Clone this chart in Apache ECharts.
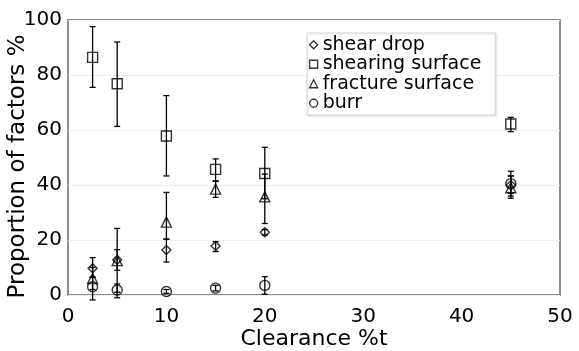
<!DOCTYPE html>
<html>
<head>
<meta charset="utf-8">
<script src="https://cdn.jsdelivr.net/npm/echarts@6/dist/echarts.min.js"></script>
<style>
  html, body { margin: 0; padding: 0; background: #fff; }
  #main { width: 579px; height: 351px; }
</style>
</head>
<body>
<div id="main"></div>
<script>
// clearance values (x)
const clearance = [2.5, 5, 10, 15, 20, 45];

// mean values and error bar ends
const shearDrop = [9.7, 12.8, 16.4, 17.8, 22.8, 40];
const shearDropLow = [6.5, 9, 12, 15.8, 21.8, 37];
const shearDropHigh = [13.6, 16.5, 20.3, 19.4, 23.8, 43.3];

const shearingSurface = [86.4, 76.8, 57.8, 45.7, 44.2, 62.2];
const shearingSurfaceLow = [75.5, 61.3, 43.3, 41.5, 35, 59.4];
const shearingSurfaceHigh = [97.6, 92, 72.5, 49.5, 53.7, 64.6];

const fractureSurface = [6, 12.5, 26.5, 38.5, 35.7, 39];
const fractureSurfaceLow = [2, 1, 20.3, 35.5, 26, 35.2];
const fractureSurfaceHigh = [10, 24.2, 37.3, 41.3, 44, 43.3];

const burr = [3, 1.8, 1.3, 2.5, 3.5, 40.5];
const burrLow = [-1.8, -1, 0.6, 1.5, 0.3, 36];
const burrHigh = [6.5, 4, 2, 3.5, 6.7, 45];

const xTicks = [0, 10, 20, 30, 40, 50];
const yTicks = [0, 20, 40, 60, 80, 100];

const font = "DejaVu Sans";
const chart = echarts.init(document.getElementById("main"));

function points(vals) {
  return clearance.map((x, i) => [x, vals[i]]);
}
function bars(low, high) {
  return clearance.map((x, i) => [x, low[i], high[i]]);
}

// vertical error bar with small caps
function renderErr(params, api) {
  const x = api.value(0);
  const lo = api.coord([x, api.value(1)]);
  const hi = api.coord([x, api.value(2)]);
  const cap = 3;
  const style = { stroke: "#000", lineWidth: 1.3 };
  return {
    type: "group",
    children: [
      { type: "line", shape: { x1: lo[0], y1: lo[1], x2: hi[0], y2: hi[1] }, style },
      { type: "line", shape: { x1: lo[0] - cap, y1: lo[1], x2: lo[0] + cap, y2: lo[1] }, style },
      { type: "line", shape: { x1: hi[0] - cap, y1: hi[1], x2: hi[0] + cap, y2: hi[1] }, style },
    ],
  };
}

const markerStyle = { color: "transparent", borderColor: "#000", borderWidth: 1.4 };

function errSeries(low, high) {
  return {
    type: "custom",
    renderItem: renderErr,
    clip: false,
    silent: true,
    z: 1,
    encode: { x: 0, y: [1, 2] },
    data: bars(low, high),
  };
}

function dotSeries(name, symbol, size, vals) {
  return {
    name,
    type: "scatter",
    symbol,
    symbolSize: size,
    itemStyle: markerStyle,
    z: 3,
    data: points(vals),
  };
}

const option = {
  animation: false,
  backgroundColor: "#fff",
  grid: {
    left: 68, right: 19, top: 20, bottom: 56,
    containLabel: false,
    outerBoundsMode: "none",
    show: true, borderColor: "#8c8c8c", borderWidth: 2,
  },
  legend: {
    orient: "vertical",
    left: 307, top: 33,
    padding: [2, 14, 2, 2],
    itemGap: 0,
    itemWidth: 8, itemHeight: 8,
    itemStyle: { borderWidth: 1.3 },
    backgroundColor: "#fff",
    borderColor: "#d6d6d6", borderWidth: 1,
    shadowColor: "rgba(0,0,0,0.12)", shadowBlur: 2, shadowOffsetX: 1, shadowOffsetY: 1,
    data: ["shear drop", "shearing surface", "fracture surface", "burr"],
    textStyle: { fontFamily: font, fontSize: 19, lineHeight: 19.5, color: "#000" },
  },
  xAxis: {
    type: "value",
    min: 0, max: 50, interval: 10,
    name: "Clearance %t",
    nameLocation: "middle",
    nameGap: 33,
    nameMoveOverlap: false,
    nameTextStyle: { fontFamily: font, fontSize: 22, color: "#000" },
    axisLine: { show: false },
    axisTick: { show: false },
    splitLine: { show: false },
    axisLabel: {
      fontFamily: font, fontSize: 20, color: "#000", margin: 12,
      formatter: (v) => (xTicks.includes(v) ? String(v) : ""),
    },
  },
  yAxis: {
    type: "value",
    min: 0, max: 100, interval: 20,
    name: "Proportion of factors %",
    nameLocation: "middle",
    nameGap: 38,
    nameMoveOverlap: false,
    nameTextStyle: { fontFamily: font, fontSize: 23, color: "#000", padding: [0, 18, 0, 0] },
    axisLine: { show: false },
    axisTick: { show: false },
    splitLine: { lineStyle: { color: "#ececec", width: 1 } },
    axisLabel: {
      fontFamily: font, fontSize: 20, color: "#000", margin: 6,
      formatter: (v) => (yTicks.includes(v) ? String(v) : ""),
    },
  },
  series: [
    errSeries(shearDropLow, shearDropHigh),
    errSeries(shearingSurfaceLow, shearingSurfaceHigh),
    errSeries(fractureSurfaceLow, fractureSurfaceHigh),
    errSeries(burrLow, burrHigh),
    dotSeries("shear drop", "diamond", 9, shearDrop),
    dotSeries("shearing surface", "rect", 10, shearingSurface),
    dotSeries("fracture surface", "triangle", 10, fractureSurface),
    dotSeries("burr", "circle", 10, burr),
  ],
};

chart.setOption(option);
</script>
</body>
</html>
